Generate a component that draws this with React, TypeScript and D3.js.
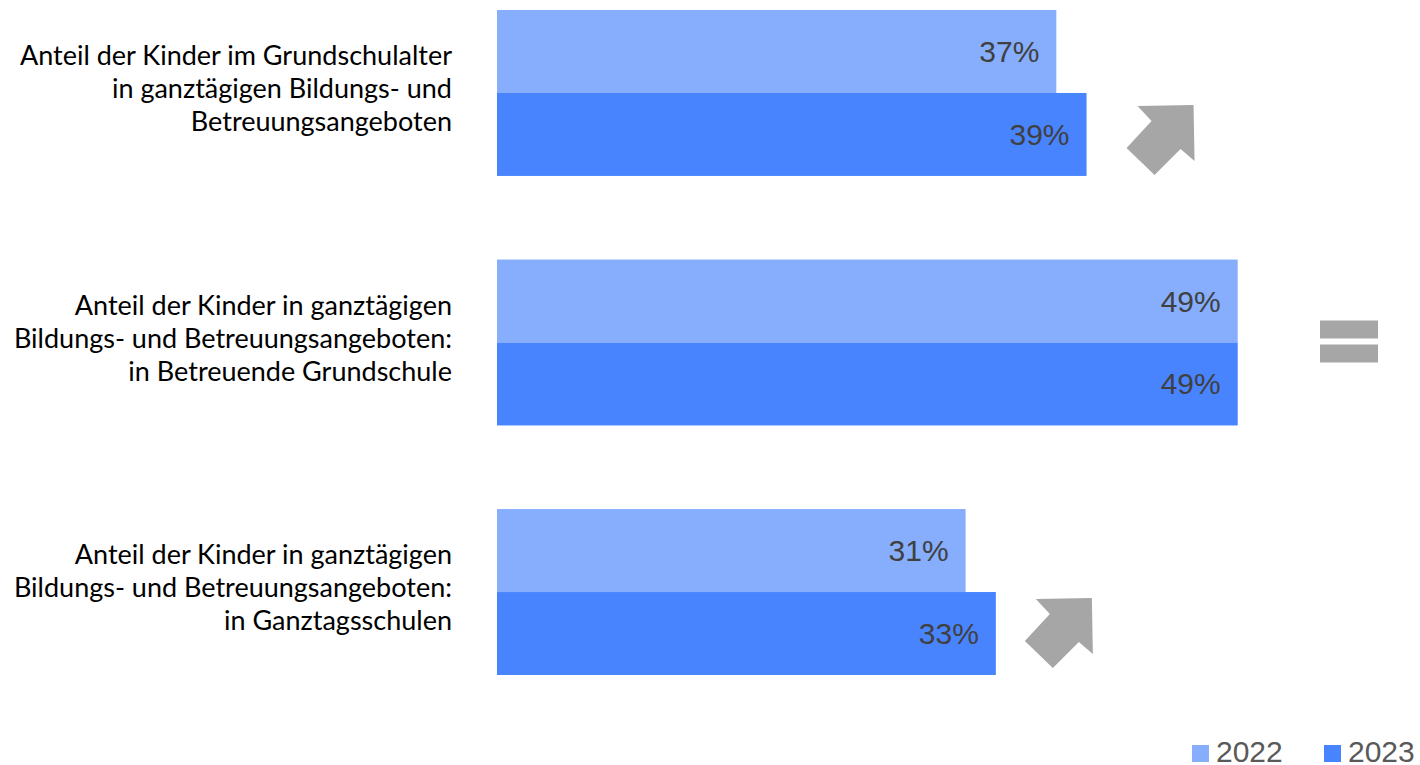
import React from 'react'
import * as d3 from 'd3'

// Chart data
const categories = [
  ['Anteil der Kinder im Grundschulalter', 'in ganztägigen Bildungs- und', 'Betreuungsangeboten'],
  ['Anteil der Kinder in ganztägigen', 'Bildungs- und Betreuungsangeboten:', 'in Betreuende Grundschule'],
  ['Anteil der Kinder in ganztägigen', 'Bildungs- und Betreuungsangeboten:', 'in Ganztagsschulen'],
]
const years = ['2022', '2023']
const values2022 = [0.37, 0.49, 0.31]
const values2023 = [0.39, 0.49, 0.33]
const trends = ['up', 'equal', 'up']

const colors: Record<string, string> = { '2022': '#86aefd', '2023': '#4984ff' }
const gray = '#a6a6a6'

const W = 1420
const H = 765

// arrow placement relative to the end of the longer bar / top of the 2023 bar
const arrowOffsets = [[107, 12], [0, 0], [96, 6]]

const App: React.FC = () => {
  const keys = categories.map((_, i) => String(i))
  const x = d3.scaleLinear().domain([0, 0.6]).range([497, 1404])
  const y = d3.scaleBand().domain(keys).range([10, 675]).paddingInner(0.335).paddingOuter(0)
  const ySub = d3.scaleBand().domain(years).range([0, y.bandwidth()])
  const fmt = d3.format('.0%')

  // block arrow, relative to its tip
  const arrowPts = [[0, 0], [-56, 1], [-42, 16], [-67, 43], [-39, 70], [-13, 44], [1, 56]]
  const arrowPath = d3.line()(arrowPts as [number, number][]) + 'Z'

  return (
    <svg width={W} height={H} style={{ position: 'absolute', left: 0, top: 0 }}>
      <rect width={W} height={H} fill="#fff" />
      {keys.map((k, i) => {
        const top = y(k) || 0
        const vals = [values2022[i], values2023[i]]
        const center = top + y.bandwidth() / 2
        const maxEnd = x(d3.max(vals) || 0)
        return (
          <g key={k}>
            {years.map((yr, j) => (
              <g key={yr}>
                <rect
                  x={x(0)}
                  y={top + (ySub(yr) || 0)}
                  width={x(vals[j]) - x(0)}
                  height={ySub.bandwidth()}
                  fill={colors[yr]}
                />
                <text
                  x={x(vals[j]) - 17}
                  y={top + (ySub(yr) || 0) + ySub.bandwidth() / 2}
                  dy="0.35em"
                  textAnchor="end"
                  fontFamily="Liberation Sans, Arial, sans-serif"
                  fontSize={30}
                  fill="#404040"
                >
                  {fmt(vals[j])}
                </text>
              </g>
            ))}
            <text
              textAnchor="end"
              fontFamily="Lato, sans-serif"
              fontSize={27}
              fill="#000"
            >
              {categories[i].map((line, li) => (
                <tspan key={li} x={452} y={center - 4 + (li - 1) * 33} dy="0.35em">
                  {line}
                </tspan>
              ))}
            </text>
            {trends[i] === 'up' && (
              <path
                d={arrowPath}
                fill={gray}
                transform={`translate(${maxEnd + arrowOffsets[i][0]},${top + (ySub('2023') || 0) + arrowOffsets[i][1]})`}
              />
            )}
            {trends[i] === 'equal' && (
              <g>
                <rect x={1320} y={center - 22} width={58} height={18} fill={gray} />
                <rect x={1320} y={center + 2} width={58} height={18} fill={gray} />
              </g>
            )}
          </g>
        )
      })}
      {/* legend */}
      {years.map((yr, j) => (
        <g key={yr} transform={`translate(${1192 + j * 132},0)`}>
          <rect x={0} y={745} width={17} height={17} fill={colors[yr]} />
          <text
            x={24}
            y={762}
            fontFamily="Liberation Sans, Arial, sans-serif"
            fontSize={30}
            fill="#595959"
          >
            {yr}
          </text>
        </g>
      ))}
    </svg>
  )
}

export default App
